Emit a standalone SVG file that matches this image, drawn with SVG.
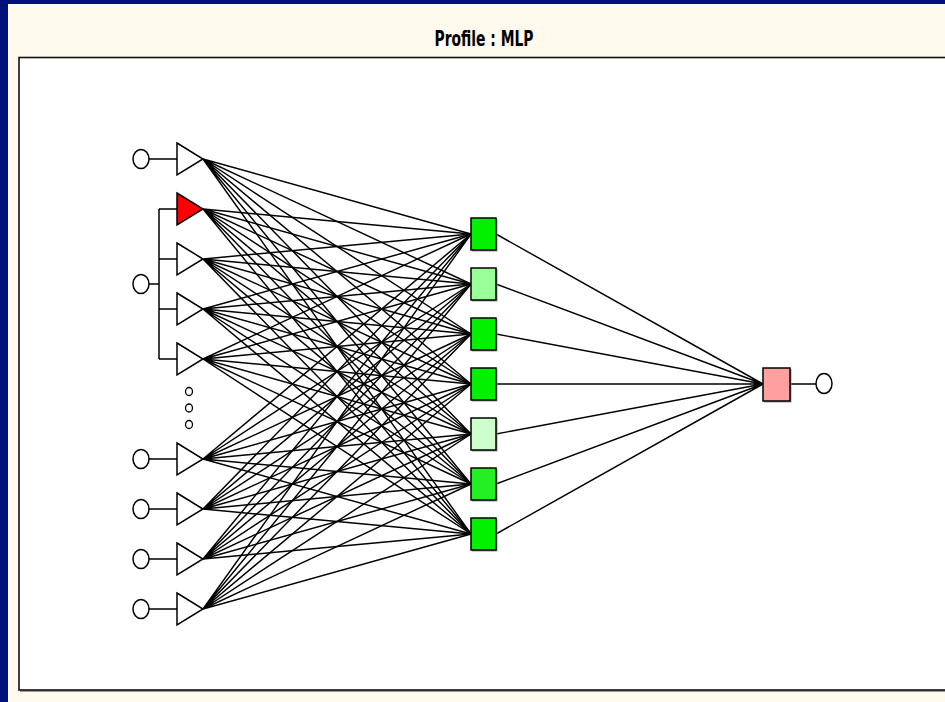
<svg xmlns="http://www.w3.org/2000/svg" width="945" height="702" viewBox="0 0 945 702">
  <style>
    .conn { stroke: #000; stroke-width: 1.45; fill: none; }
    .wire { stroke: #000; stroke-width: 1.5; fill: none; }
    .term { fill: #fff; stroke: #000; stroke-width: 1.5; }
    .tri { fill: #fff; stroke: #000; stroke-width: 1.5; stroke-linejoin: miter; }
    .unit { stroke: #000; stroke-width: 1.5; }
    .shade { fill: #9a9a9a; }
    .title { font-family: "DejaVu Sans Condensed", "DejaVu Sans", sans-serif; font-weight: bold; font-size: 21px; fill: #000; }
  </style>

  <!-- window frame -->
  <rect x="0" y="0" width="945" height="702" fill="#001178"/>
  <rect x="8" y="4" width="937" height="698" fill="#fff9ee"/>
  <text class="title" x="484" y="45.5" text-anchor="middle" textLength="99" lengthAdjust="spacingAndGlyphs">Profile : MLP</text>
  <!-- drawing area -->
  <rect x="20" y="59" width="930" height="633" fill="#9a9a9a"/>
  <rect x="19" y="57.5" width="930" height="632.5" fill="#fff" stroke="#111" stroke-width="1.6"/>

  <!-- connectors -->
  <g id="connectors">
    <!-- input layer to hidden layer -->
    <g id="in-hidden">
      <path class="conn" d="M203 159L471 234M203 159L471 284M203 159L471 334M203 159L471 384M203 159L471 434M203 159L471 484M203 159L471 534"/>
      <path class="conn" d="M203 209L471 234M203 209L471 284M203 209L471 334M203 209L471 384M203 209L471 434M203 209L471 484M203 209L471 534"/>
      <path class="conn" d="M203 259L471 234M203 259L471 284M203 259L471 334M203 259L471 384M203 259L471 434M203 259L471 484M203 259L471 534"/>
      <path class="conn" d="M203 309L471 234M203 309L471 284M203 309L471 334M203 309L471 384M203 309L471 434M203 309L471 484M203 309L471 534"/>
      <path class="conn" d="M203 359L471 234M203 359L471 284M203 359L471 334M203 359L471 384M203 359L471 434M203 359L471 484M203 359L471 534"/>
      <path class="conn" d="M203 459L471 234M203 459L471 284M203 459L471 334M203 459L471 384M203 459L471 434M203 459L471 484M203 459L471 534"/>
      <path class="conn" d="M203 509L471 234M203 509L471 284M203 509L471 334M203 509L471 384M203 509L471 434M203 509L471 484M203 509L471 534"/>
      <path class="conn" d="M203 559L471 234M203 559L471 284M203 559L471 334M203 559L471 384M203 559L471 434M203 559L471 484M203 559L471 534"/>
      <path class="conn" d="M203 609L471 234M203 609L471 284M203 609L471 334M203 609L471 384M203 609L471 434M203 609L471 484M203 609L471 534"/>
    </g>
    <!-- hidden layer to output -->
    <path id="hidden-out" class="conn" d="M496 234L763 384M496 284L763 384M496 334L763 384M496 384L763 384M496 434L763 384M496 484L763 384M496 534L763 384"/>
    <!-- terminal wires -->
    <path id="in-wires" class="wire" d="M149 159H177M149 459H177M149 509H177M149 559H177M149 609H177"/>
    <path id="group-bus" class="wire" d="M149 284H159M159 209V359M159 209H177M159 259H177M159 309H177M159 359H177"/>
    <path id="out-wire" class="wire" d="M790 384H816"/>
  </g>

  <!-- input terminals -->
  <g id="input-terminals">
    <ellipse class="term" cx="141" cy="159" rx="8" ry="9.5"/>
    <ellipse class="term" cx="141" cy="284" rx="8" ry="9.5"/>
    <ellipse class="term" cx="141" cy="459" rx="8" ry="9.5"/>
    <ellipse class="term" cx="141" cy="509" rx="8" ry="9.5"/>
    <ellipse class="term" cx="141" cy="559" rx="8" ry="9.5"/>
    <ellipse class="term" cx="141" cy="609" rx="8" ry="9.5"/>
  </g>

  <!-- input neurons -->
  <g id="in1"><path class="tri" d="M177 143L203 159L177 175Z"/></g>
  <g id="in2"><path class="tri" d="M177 193L203 209L177 225Z" style="fill:#ff0000"/></g>
  <g id="in3"><path class="tri" d="M177 243L203 259L177 275Z"/></g>
  <g id="in4"><path class="tri" d="M177 293L203 309L177 325Z"/></g>
  <g id="in5"><path class="tri" d="M177 343L203 359L177 375Z"/></g>
  <g id="ellipsis">
    <ellipse class="term" cx="189" cy="391.5" rx="3.5" ry="4" style="stroke-width:1.3"/>
    <ellipse class="term" cx="189" cy="408" rx="3.5" ry="4" style="stroke-width:1.3"/>
    <ellipse class="term" cx="189" cy="424.5" rx="3.5" ry="4" style="stroke-width:1.3"/>
  </g>
  <g id="in6"><path class="tri" d="M177 443L203 459L177 475Z"/></g>
  <g id="in7"><path class="tri" d="M177 493L203 509L177 525Z"/></g>
  <g id="in8"><path class="tri" d="M177 543L203 559L177 575Z"/></g>
  <g id="in9"><path class="tri" d="M177 593L203 609L177 625Z"/></g>

  <!-- hidden neurons -->
  <g id="h1"><rect class="shade" x="472" y="219" width="25.5" height="32.5"/><rect class="unit" x="471" y="218" width="25" height="32" fill="#00f000"/></g>
  <g id="h2"><rect class="shade" x="472" y="269" width="25.5" height="32.5"/><rect class="unit" x="471" y="268" width="25" height="32" fill="#99ff99"/></g>
  <g id="h3"><rect class="shade" x="472" y="319" width="25.5" height="32.5"/><rect class="unit" x="471" y="318" width="25" height="32" fill="#00f000"/></g>
  <g id="h4"><rect class="shade" x="472" y="369" width="25.5" height="32.5"/><rect class="unit" x="471" y="368" width="25" height="32" fill="#00f000"/></g>
  <g id="h5"><rect class="shade" x="472" y="419" width="25.5" height="32.5"/><rect class="unit" x="471" y="418" width="25" height="32" fill="#ccffcc"/></g>
  <g id="h6"><rect class="shade" x="472" y="469" width="25.5" height="32.5"/><rect class="unit" x="471" y="468" width="25" height="32" fill="#22f022"/></g>
  <g id="h7"><rect class="shade" x="472" y="519" width="25.5" height="32.5"/><rect class="unit" x="471" y="518" width="25" height="32" fill="#00f000"/></g>

  <!-- output neuron and terminal -->
  <g id="out1"><rect class="shade" x="764" y="369" width="27.5" height="33.5"/><rect class="unit" x="763" y="368" width="27" height="33" fill="#ffa0a0"/></g>
  <g id="output-terminal"><ellipse class="term" cx="824" cy="383.5" rx="8" ry="10"/></g>
</svg>
